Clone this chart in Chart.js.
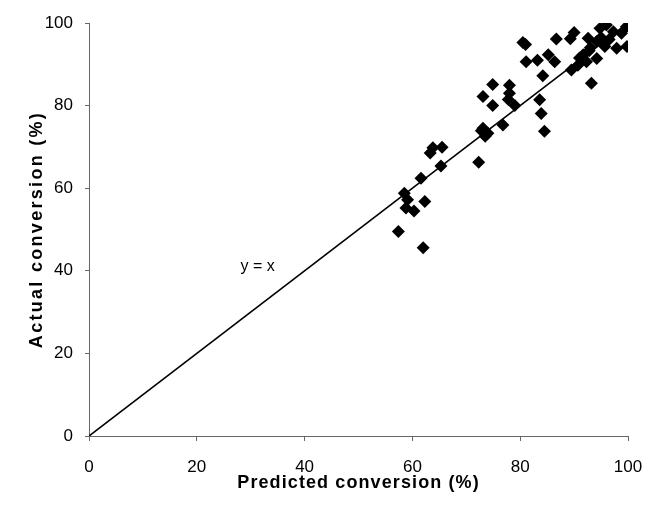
<!DOCTYPE html>
<html lang="en">
<head>
    <meta charset="UTF-8">
    <title>conversion</title>
    <script src="https://cdn.jsdelivr.net/npm/chart.js@4.4.0/dist/chart.umd.min.js"></script>
    <style>
        body{
            margin: 0;
            background-color: white;
        }
        .box{
            width: 649px;
            height: 511px;
            position: relative;
        }
    </style>
</head>
<body>
<div class="box">
    <canvas id="miCanvas" width="649" height="511"></canvas>
</div>
<script>
    // predicted (x) and actual (y) conversion, %
    const predicted = [57.4, 62.0, 58.5, 59.1, 58.8, 60.3, 62.3, 61.6, 65.3, 63.3, 63.8, 65.5, 72.3,
        72.8, 73.1, 73.5, 74.0, 76.8, 73.1, 74.9, 74.9, 78.0, 78.0, 77.8, 79.0, 83.6, 83.9, 84.5, 84.2,
        81.0, 80.5, 81.1, 83.2, 85.2, 86.4, 86.7, 90.0, 89.5, 90.7, 92.3, 91.7, 93.2, 89.3, 92.6, 94.2,
        94.8, 96.0, 97.3, 97.9, 95.7, 98.8, 99.7, 99.8, 94.2, 93.0, 95.0, 96.5, 92.8, 91.0];
    const actual = [49.5, 45.6, 58.8, 57.2, 55.2, 54.5, 56.8, 62.4, 65.4, 68.5, 69.8, 69.9, 66.3,
        73.9, 74.5, 72.6, 73.3, 75.3, 82.2, 85.1, 80.0, 84.9, 83.0, 81.5, 80.0, 81.4, 78.1, 73.8, 87.2,
        94.8, 95.3, 90.6, 91.0, 92.3, 90.6, 96.1, 97.7, 88.6, 89.8, 90.6, 92.3, 85.4, 96.2, 96.3, 95.5,
        98.7, 99.5, 97.9, 93.9, 94.3, 97.5, 99.1, 94.3, 91.4, 94.0, 96.5, 96.0, 93.3, 91.5];
    const lineX = [0, 100];
    const lineY = [0, 100];
    const ticks = [0, 20, 40, 60, 80, 100];
    const xTitle = 'Predicted conversion (%)';
    const yTitle = 'Actual conversion (%)';

    const points = predicted.map((x, i) => ({x: x, y: actual[i]}));
    const diag = lineX.map((x, i) => ({x: x, y: lineY[i]}));

    const fam = '"Liberation Sans", Arial, sans-serif';

    // "y = x" label and the spaced-out bold axis titles
    const extraText = {
        id: 'extraText',
        afterDraw(chart){
            const c = chart.ctx;
            const xs = chart.scales.x, ys = chart.scales.y;
            c.save();
            c.fillStyle = '#000';
            c.textAlign = 'center';
            c.textBaseline = 'middle';
            c.font = '16px ' + fam;
            c.fillText('y = x', xs.getPixelForValue(31.3), ys.getPixelForValue(41));

            c.font = 'bold 18px ' + fam;
            c.letterSpacing = '1.1px';
            c.textBaseline = 'alphabetic';
            c.fillText(xTitle, (xs.left + xs.right) / 2, 488);

            c.letterSpacing = '2.3px';
            c.translate(42, (ys.top + ys.bottom) / 2);
            c.rotate(-Math.PI / 2);
            c.fillText(yTitle, 0, 0);
            c.restore();
        }
    };

    const fontTick = {family: fam, size: 17};

    new Chart(document.getElementById('miCanvas').getContext('2d'), {
        type: 'scatter',
        data: {
            datasets: [
                {
                    type: 'line',
                    data: diag,
                    borderColor: '#000',
                    borderWidth: 1.6,
                    pointRadius: 0,
                    fill: false
                },
                {
                    data: points,
                    pointStyle: 'rectRot',
                    pointRadius: 6.5,
                    pointHoverRadius: 6.5,
                    backgroundColor: '#000',
                    borderColor: '#000',
                    borderWidth: 0
                }
            ]
        },
        options: {
            responsive: false,
            animation: false,
            events: [],
            layout: {padding: {top: 23, right: 21, left: 0, bottom: 0}},
            plugins: {legend: {display: false}, tooltip: {enabled: false}},
            scales: {
                x: {
                    type: 'linear', min: 0, max: 100,
                    afterBuildTicks: (s) => { s.ticks = ticks.map(v => ({value: v})); },
                    afterFit: (s) => { s.height = 75; s.paddingLeft = 0; s.paddingRight = 0; },
                    grid: {display: true, drawOnChartArea: false, drawTicks: true, tickLength: 5, tickColor: '#666'},
                    border: {color: '#666', width: 1},
                    ticks: {color: '#000', font: fontTick, padding: 16, maxRotation: 0}
                },
                y: {
                    type: 'linear', min: 0, max: 100,
                    afterBuildTicks: (s) => { s.ticks = ticks.map(v => ({value: v})); },
                    afterFit: (s) => { s.width = 89; s.paddingTop = 0; s.paddingBottom = 0; },
                    grid: {display: true, drawOnChartArea: false, drawTicks: true, tickLength: 4, tickColor: '#666'},
                    border: {color: '#666', width: 1},
                    ticks: {color: '#000', font: fontTick, padding: 12}
                }
            }
        },
        plugins: [extraText]
    });
</script>
</body>
</html>
